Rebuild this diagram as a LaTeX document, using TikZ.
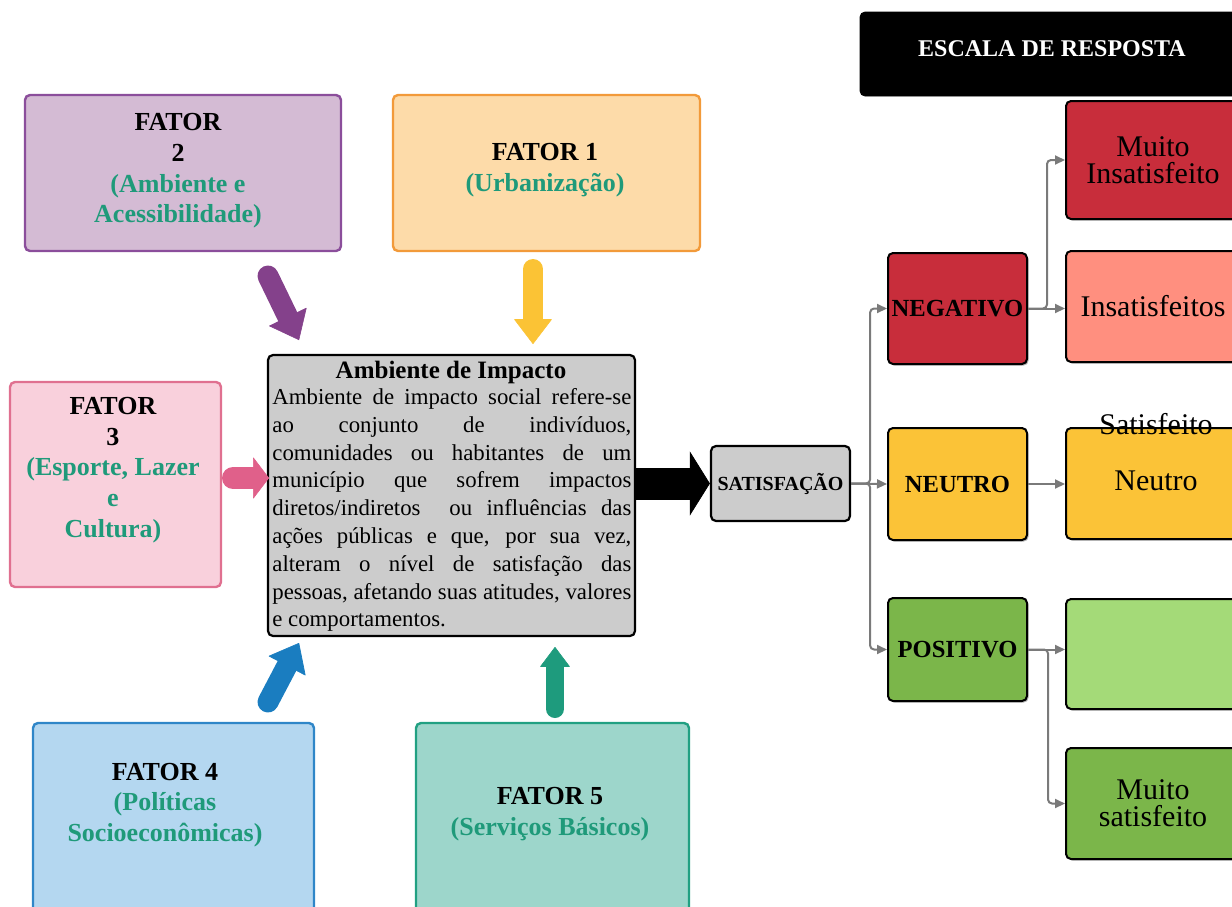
\documentclass[tikz,border=0pt]{standalone}
\usepackage{fontspec}
\setmainfont{Liberation Serif}
\usetikzlibrary{arrows.meta,shadows,calc}
\definecolor{tg}{HTML}{1F9A7A}
\definecolor{f2fill}{HTML}{D4BBD4}\definecolor{f2line}{HTML}{8B4E9B}
\definecolor{f1fill}{HTML}{FDDBA9}\definecolor{f1line}{HTML}{F29A3A}
\definecolor{f3fill}{HTML}{F9D0DC}\definecolor{f3line}{HTML}{E07090}
\definecolor{f4fill}{HTML}{B4D7F0}\definecolor{f4line}{HTML}{2F86C8}
\definecolor{f5fill}{HTML}{9DD6CB}\definecolor{f5line}{HTML}{21A082}
\definecolor{grayfill}{HTML}{CCCCCC}
\definecolor{redf}{HTML}{C82D3B}\definecolor{salmon}{HTML}{FF8F7F}
\definecolor{yel}{HTML}{FBC337}\definecolor{grn}{HTML}{7BB64A}\definecolor{lgrn}{HTML}{A4DA78}
\definecolor{apurple}{HTML}{84418B}\definecolor{ayellow}{HTML}{FBC335}
\definecolor{apink}{HTML}{E0608A}\definecolor{ablue}{HTML}{1A7DC0}\definecolor{ateal}{HTML}{1E9B7D}
\definecolor{connc}{HTML}{7A7A7A}
\begin{document}
\begin{tikzpicture}[x=0.5pt,y=-0.5pt,
  box/.style={draw, rounded corners=2.5pt, inner sep=0pt},
  fator/.style={box, line width=1.2pt},
  rbox/.style={box, draw=black, line width=1pt,
     drop shadow={shadow xshift=0.8pt, shadow yshift=-0.8pt, opacity=0.3, fill=black}},
  ftxt/.style={font=\fontsize{13}{15.3}\selectfont\bfseries, align=center, inner sep=0pt},
  rtxt/.style={font=\fontsize{15}{13.5}\selectfont, align=center, inner sep=0pt},
  btxt/.style={font=\fontsize{12.3}{14}\selectfont\bfseries, inner sep=0pt},
  conn/.style={draw=connc, line width=1pt, rounded corners=2pt,
     -{Triangle[length=5pt,width=4.5pt]}},
  blk/.style={line cap=round}
]
\useasboundingbox (0,0) rectangle (1232,906);

% factor boxes
\node[fator, fill=f2fill, draw=f2line, minimum width=158pt, minimum height=78pt] (f2) at (183,173) {};
\node[fator, fill=f1fill, draw=f1line, minimum width=153.5pt, minimum height=78pt] (f1) at (546.5,173) {};
\node[fator, fill=f3fill, draw=f3line, minimum width=105.5pt, minimum height=102.5pt] (f3) at (115.5,484.5) {};
\node[fator, fill=f4fill, draw=f4line, minimum width=140.5pt, minimum height=101pt] (f4) at (173.5,824) {};
\node[fator, fill=f5fill, draw=f5line, minimum width=136.5pt, minimum height=101pt] (f5) at (552.5,824) {};

\node[ftxt] (t2) at (178,171) {FATOR\\2\\\textcolor{tg}{(Ambiente e}\\\textcolor{tg}{Acessibilidade)}};
\node[ftxt] (t1) at (545,170) {FATOR 1\\\textcolor{tg}{(Urbanização)}};
\node[ftxt] (t3) at (113,470) {FATOR\\3\\\textcolor{tg}{(Esporte, Lazer}\\\textcolor{tg}{e}\\\textcolor{tg}{Cultura)}};
\node[ftxt] (t4) at (165,805) {FATOR 4\\\textcolor{tg}{(Políticas}\\\textcolor{tg}{Socioeconômicas)}};
\node[ftxt] (t5) at (550,814) {FATOR 5\\\textcolor{tg}{(Serviços Básicos)}};

% central box
\node[box, fill=grayfill, draw=black, line width=1.1pt, minimum width=183.5pt, minimum height=140.5pt] (amb) at (451.5,495.5) {};
\node[font=\fontsize{12.5}{14}\selectfont\bfseries, inner sep=0pt] (ambt) at (451,372) {Ambiente de Impacto};
\node[inner sep=0pt, anchor=north west, align=left, font=\fontsize{11.4}{13.9}\selectfont] (body) at (272,388) {%
\makebox[179.5pt][s]{Ambiente de impacto social refere-se}\\
\makebox[179.5pt][s]{ao conjunto de indivíduos,}\\
\makebox[179.5pt][s]{comunidades ou habitantes de um}\\
\makebox[179.5pt][s]{município que sofrem impactos}\\
\makebox[179.5pt][s]{diretos/indiretos\ \ ou influências das}\\
\makebox[179.5pt][s]{ações públicas e que, por sua vez,}\\
\makebox[179.5pt][s]{alteram o nível de satisfação das}\\
\makebox[179.5pt][s]{pessoas, afetando suas atitudes, valores}\\
e comportamentos.};

% block arrows
\coordinate (a2s) at (268,276); \coordinate (a2e) at (299,340);
\coordinate (a1s) at (533,269); \coordinate (a1e) at (533,344);
\coordinate (a3s) at (233,478); \coordinate (a3e) at (269,478);
\coordinate (a4s) at (268,702); \coordinate (a4e) at (299,643);
\coordinate (a5s) at (555,709); \coordinate (a5e) at (555,647);
\draw[blk, line width=10.5pt, apurple, -{Triangle[length=13pt,width=21pt,line width=0.3pt,round]}] (a2s) -- (a2e);
\draw[blk, line width=10pt, ayellow, -{Triangle[length=12.5pt,width=19pt,line width=0.3pt,round]}] (a1s) -- (a1e);
\draw[blk, line width=11pt, apink, -{Triangle[length=8pt,width=21pt,line width=0.3pt,round]}] (a3s) -- (a3e);
\draw[blk, line width=10.5pt, ablue, -{Triangle[length=13pt,width=21pt,line width=0.3pt,round]}] (a4s) -- (a4e);
\draw[blk, line width=9pt, ateal, -{Triangle[length=10pt,width=15pt,line width=0.3pt,round]}] (a5s) -- (a5e);

% satisfaction
\node[box, fill=grayfill, draw=black, line width=1.1pt, minimum width=69.5pt, minimum height=37.5pt,
      font=\fontsize{10}{12}\selectfont\bfseries] (sat) at (780.5,483.5) {SATISFAÇÃO};
\draw[line width=16pt, black, -{Triangle[length=10pt,width=32pt,line width=0.3pt]}] (amb.east |- sat.west) -- (sat.west);

% scale header
\node[box, fill=black, draw=black, minimum width=192pt, minimum height=42pt] (esc) at (1052,54) {};
\node[font=\fontsize{12}{14}\selectfont\bfseries, text=white, inner sep=0pt] (esct) at (1052,49) {ESCALA DE RESPOSTA};

% level boxes
\node[rbox, fill=redf, minimum width=69.5pt, minimum height=55.5pt, btxt] (neg) at (957.5,308.5) {NEGATIVO};
\node[rbox, fill=yel, minimum width=69.5pt, minimum height=56pt, btxt] (neu) at (957.5,484) {NEUTRO};
\node[rbox, fill=grn, minimum width=69.5pt, minimum height=51.5pt, btxt] (pos) at (957.5,649.5) {POSITIVO};

% answer boxes
\node[rbox, fill=redf, minimum width=87pt, minimum height=59pt, rtxt] (mins) at (1153,160) {Muito\\Insatisfeito};
\node[rbox, fill=salmon, minimum width=87pt, minimum height=55.5pt, rtxt] (ins) at (1153,306.5) {Insatisfeitos};
\node[rbox, fill=yel, minimum width=87pt, minimum height=55.5pt] (neu2) at (1153,483.5) {};
\node[rtxt] (neut) at (1156,481) {Neutro};
\node[rtxt] (satf) at (1156,424) {Satisfeito};
\node[rbox, fill=lgrn, minimum width=87pt, minimum height=55pt] (lg) at (1153,654) {};
\node[rbox, fill=grn, minimum width=87pt, minimum height=55.5pt, rtxt] (ms) at (1153,803.5) {Muito\\satisfeito};

% connectors
\draw[conn] (sat.east) -- ++(19,0) |- (neg.west);
\draw[conn] (sat.east) -- (neu.west);
\draw[conn] (sat.east) -- ++(19,0) |- (pos.west);
\draw[conn] (neg.east) -- (neg.east -| ins.west);
\draw[conn] (neg.east) -- ++(19,0) |- (mins.west);
\draw[conn] (neu.east) -- (neu.east -| neu2.west);
\draw[conn] (pos.east) -- (pos.east -| lg.west);
\draw[conn] (pos.east) -- ++(20,0) |- (ms.west);
\end{tikzpicture}
\end{document}
